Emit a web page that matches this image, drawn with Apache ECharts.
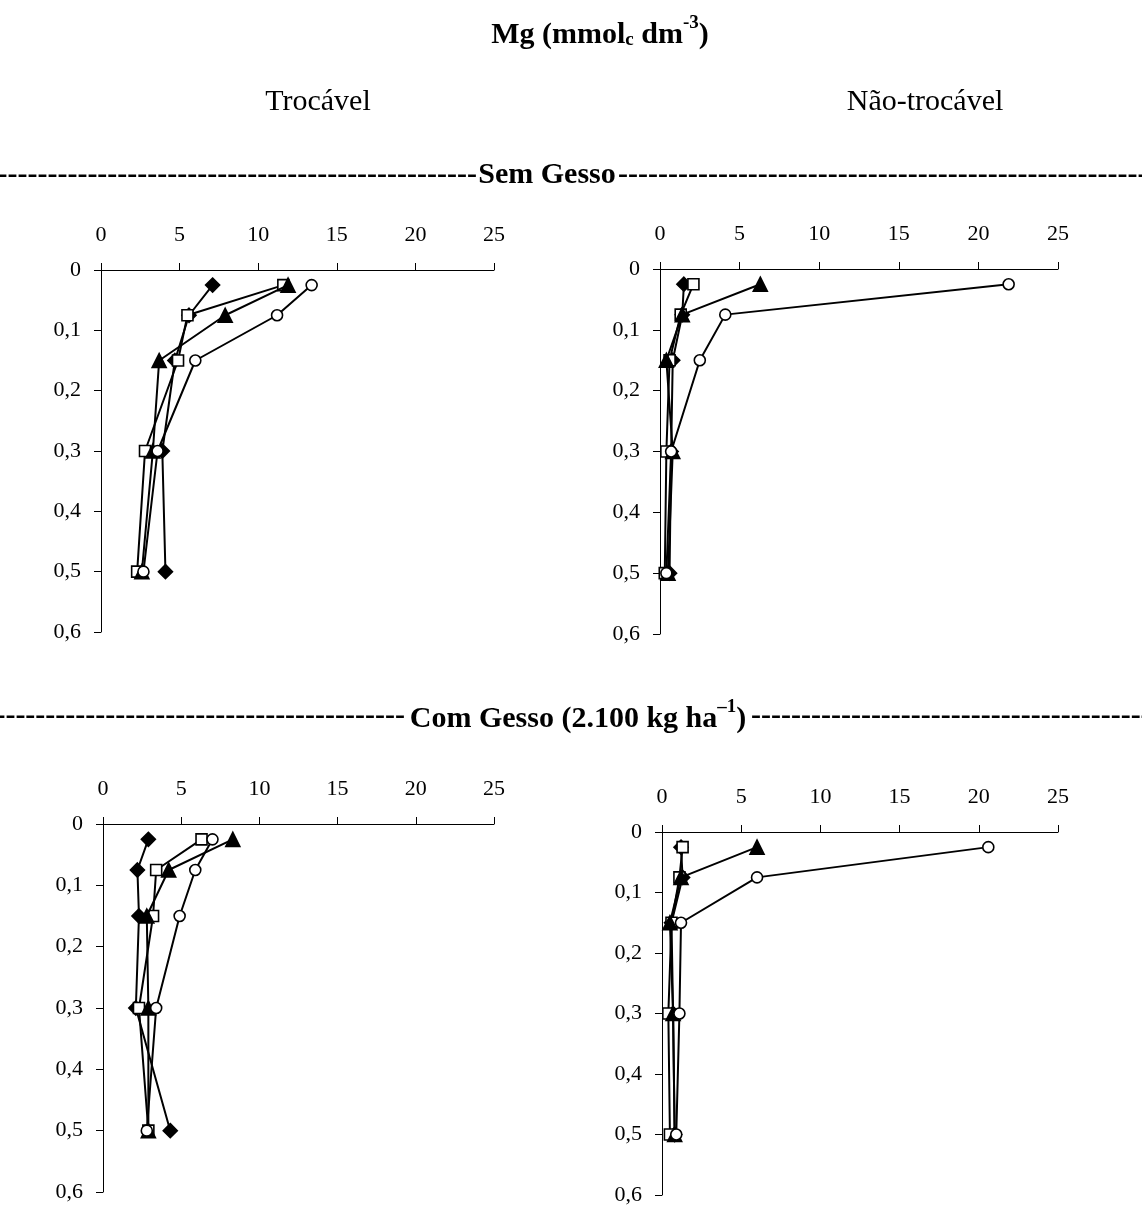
<!DOCTYPE html>
<html>
<head>
<meta charset="utf-8">
<script src="https://cdn.jsdelivr.net/npm/echarts@6/dist/echarts.min.js"></script>
<style>
html,body{margin:0;padding:0;background:#fff;}
#chart{width:1142px;height:1208px;}
</style>
</head>
<body>
<div id="chart"></div>
<script>
// ---- data ----
const depths = [0.025, 0.075, 0.15, 0.3, 0.5];
const xTicks = [0, 5, 10, 15, 20, 25];
const yTicks = ['0', '0,1', '0,2', '0,3', '0,4', '0,5', '0,6'];

// Sem Gesso - Trocável
const sgTrocDiamond  = [7.1, 5.6, 4.7, 3.9, 4.1];
const sgTrocSquare   = [11.6, 5.5, 4.9, 2.8, 2.3];
const sgTrocTriangle = [11.9, 7.9, 3.7, 3.3, 2.6];
const sgTrocCircle   = [13.4, 11.2, 6.0, 3.6, 2.7];
// Sem Gesso - Não-trocável
const sgNaoDiamond  = [1.5, 1.4, 0.8, 0.7, 0.6];
const sgNaoSquare   = [2.1, 1.3, 0.6, 0.4, 0.3];
const sgNaoTriangle = [6.3, 1.4, 0.4, 0.8, 0.5];
const sgNaoCircle   = [21.9, 4.1, 2.5, 0.7, 0.4];
// Com Gesso - Trocável
const cgTrocDiamond  = [2.9, 2.2, 2.3, 2.1, 4.3];
const cgTrocSquare   = [6.3, 3.4, 3.2, 2.3, 2.9];
const cgTrocTriangle = [8.3, 4.2, 2.8, 2.9, 2.9];
const cgTrocCircle   = [7.0, 5.9, 4.9, 3.4, 2.8];
// Com Gesso - Não-trocável
const cgNaoDiamond  = [1.2, 1.3, 0.6, 0.7, 0.8];
const cgNaoSquare   = [1.3, 1.1, 0.6, 0.4, 0.5];
const cgNaoTriangle = [6.0, 1.2, 0.5, 0.7, 0.8];
const cgNaoCircle   = [20.6, 6.0, 1.2, 1.1, 0.9];

// ---- layout ----
const FONT = '"Liberation Serif", "Times New Roman", serif';
const grids = [
  {left: 101, top: 270, width: 393, height: 362},
  {left: 660, top: 269, width: 398, height: 365},
  {left: 103, top: 824, width: 391, height: 368},
  {left: 662, top: 832, width: 396, height: 363}
];
const panels = [
  [sgTrocDiamond, sgTrocSquare, sgTrocTriangle, sgTrocCircle],
  [sgNaoDiamond, sgNaoSquare, sgNaoTriangle, sgNaoCircle],
  [cgTrocDiamond, cgTrocSquare, cgTrocTriangle, cgTrocCircle],
  [cgNaoDiamond, cgNaoSquare, cgNaoTriangle, cgNaoCircle]
];
const symbols = [
  {symbol: 'diamond', size: 14, fill: '#000'},
  {symbol: 'rect', size: 11, fill: '#fff'},
  {symbol: 'triangle', size: 14, fill: '#000'},
  {symbol: 'circle', size: 11, fill: '#fff'}
];

const xAxes = [], yAxes = [], series = [];
grids.forEach((g, i) => {
  xAxes.push({
    gridIndex: i, type: 'value', position: 'top', min: 0, max: 25, interval: 5,
    axisLine: {show: true, onZero: false, lineStyle: {color: '#000', width: 1}},
    axisTick: {show: true, inside: false, length: 7, lineStyle: {color: '#000'}},
    axisLabel: {fontFamily: FONT, fontSize: 22, color: '#000', margin: 24,
      formatter: v => xTicks.includes(v) ? String(v) : ''},
    splitLine: {show: false}
  });
  yAxes.push({
    gridIndex: i, type: 'value', inverse: true, min: 0, max: 0.6, interval: 0.1,
    axisLine: {show: true, onZero: false, lineStyle: {color: '#000', width: 1}},
    axisTick: {show: true, inside: false, length: 7, lineStyle: {color: '#000'}},
    axisLabel: {fontFamily: FONT, fontSize: 22, color: '#000', margin: 20,
      formatter: v => yTicks[Math.round(v * 10)]},
    splitLine: {show: false}
  });
  panels[i].forEach((vals, k) => {
    const s = symbols[k];
    series.push({
      type: 'line', xAxisIndex: i, yAxisIndex: i,
      data: vals.map((v, j) => [v, depths[j]]),
      symbol: s.symbol, symbolSize: s.size, showSymbol: true,
      lineStyle: {color: '#000', width: 2},
      itemStyle: {color: s.fill, borderColor: '#000', borderWidth: 1.6},
      animation: false, z: 2 + k
    });
  });
});

const dashes = n => '-'.repeat(n);
const graphic = [
  {type: 'text', x: 600, y: 32,
   style: {text: '{b|Mg (mmol}{sub|c}{b| dm}{sup|-3}{b|)}', fill: '#000', textAlign: 'center', textVerticalAlign: 'middle',
     rich: {
       b: {fontFamily: FONT, fontSize: 30, fontWeight: 'bold', lineHeight: 36, verticalAlign: 'bottom'},
       sub: {fontFamily: FONT, fontSize: 19, fontWeight: 'bold', lineHeight: 32, verticalAlign: 'bottom'},
       sup: {fontFamily: FONT, fontSize: 19, fontWeight: 'bold', lineHeight: 36, verticalAlign: 'top'}
     }}},
  {type: 'text', x: 318, y: 102,
   style: {text: 'Trocável', font: '30px ' + FONT, fill: '#000', textAlign: 'center', textVerticalAlign: 'middle'}},
  {type: 'text', x: 925, y: 102,
   style: {text: 'Não-trocável', font: '30px ' + FONT, fill: '#000', textAlign: 'center', textVerticalAlign: 'middle'}},
  // Sem Gesso
  {type: 'text', x: 477, y: 175,
   style: {text: dashes(48), font: 'bold 30px ' + FONT, fill: '#000', textAlign: 'right', textVerticalAlign: 'middle'}},
  {type: 'text', x: 547, y: 175,
   style: {text: 'Sem Gesso', font: 'bold 30px ' + FONT, fill: '#000', textAlign: 'center', textVerticalAlign: 'middle'}},
  {type: 'text', x: 618, y: 175,
   style: {text: dashes(60), font: 'bold 30px ' + FONT, fill: '#000', textAlign: 'left', textVerticalAlign: 'middle'}},
  // Com Gesso
  {type: 'text', x: 405, y: 716,
   style: {text: dashes(45), font: 'bold 30px ' + FONT, fill: '#000', textAlign: 'right', textVerticalAlign: 'middle'}},
  {type: 'text', x: 578, y: 716,
   style: {text: '{b|Com Gesso (2.100 kg ha}{sup|\u20131}{b|)}', fill: '#000', textAlign: 'center', textVerticalAlign: 'middle',
     rich: {
       b: {fontFamily: FONT, fontSize: 30, fontWeight: 'bold', lineHeight: 36, verticalAlign: 'bottom'},
       sup: {fontFamily: FONT, fontSize: 19, fontWeight: 'bold', lineHeight: 36, verticalAlign: 'top'}
     }}},
  {type: 'text', x: 751, y: 716,
   style: {text: dashes(45), font: 'bold 30px ' + FONT, fill: '#000', textAlign: 'left', textVerticalAlign: 'middle'}}
];

const chart = echarts.init(document.getElementById('chart'), null, {renderer: 'canvas'});
chart.setOption({
  backgroundColor: '#fff',
  animation: false,
  grid: grids.map(g => Object.assign({containLabel: false}, g)),
  xAxis: xAxes,
  yAxis: yAxes,
  series: series,
  graphic: graphic
});
</script>
</body>
</html>
